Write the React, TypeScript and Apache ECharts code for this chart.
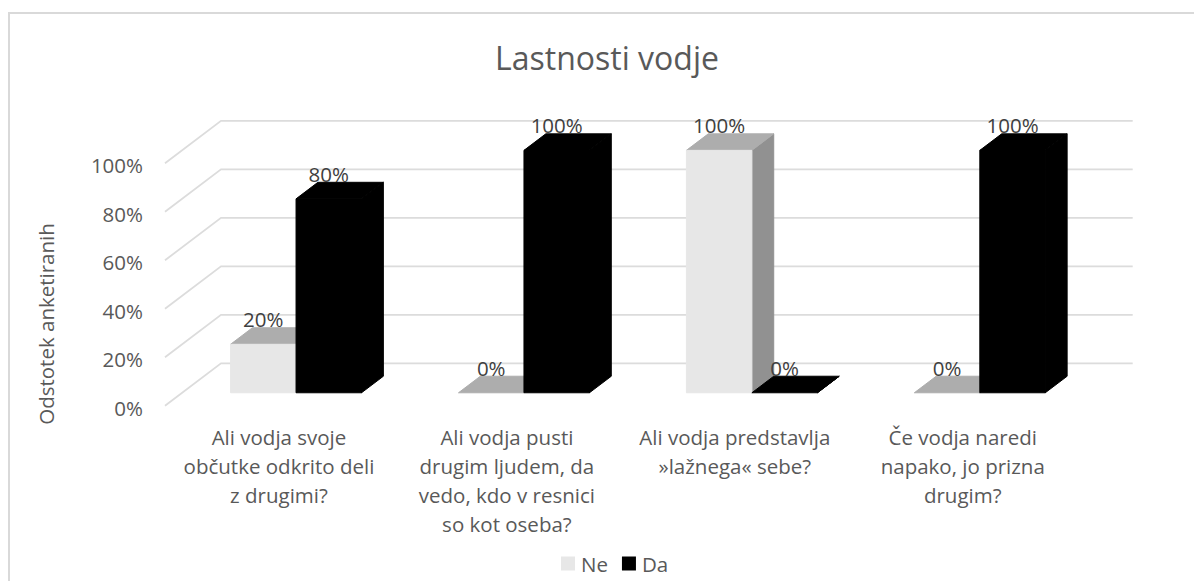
import React, { useEffect, useRef } from "react";
import * as echarts from "echarts";

const titleText = "Lastnosti vodje";
const axisTitle = "Odstotek anketiranih";
const categories = [
  "Ali vodja svoje\nobčutke odkrito deli\nz drugimi?",
  "Ali vodja pusti\ndrugim ljudem, da\nvedo, kdo v resnici\nso kot oseba?",
  "Ali vodja predstavlja\n»lažnega« sebe?",
  "Če vodja naredi\nnapako, jo prizna\ndrugim?",
];
const seriesNames = ["Ne", "Da"];
const neValues = [20, 0, 100, 0];
const daValues = [80, 100, 0, 100];
const tickValues = [0, 20, 40, 60, 80, 100];

const FONT = '"Open Sans", sans-serif';
const TEXT = "#595959";
const LABEL = "#404040";
const GRID = "#dcdcdc";

// Oblique projection of the depth axis
const DEPTH_X = 56;
const DEPTH_Y = 42.4;
const BAR_FRONT = 0.305;
const BAR_DEPTH = 0.39;
const BAR_SHARE = 65.5 / 228;

type Faces = { front: string; top: string; side: string };

const prism = (side: -1 | 0, faces: Faces) => (params: any, api: any) => {
  const value = api.value(1);
  const band = api.size([1, 0])[0];
  const w = band * BAR_SHARE;
  const [cx, topY] = api.coord([api.value(0), value]);
  const [, baseY] = api.coord([api.value(0), 0]);
  const ox = DEPTH_X * BAR_FRONT;
  const oy = DEPTH_Y * BAR_FRONT;
  const dx = DEPTH_X * BAR_DEPTH;
  const dy = DEPTH_Y * BAR_DEPTH;
  const x0 = cx + ox + side * w;
  const x1 = x0 + w;
  const y0 = topY - oy;
  const y1 = baseY - oy;
  // A thin stroke in the face colour closes the seams between neighbouring faces
  const poly = (points: number[][], fill: string) => ({
    type: "polygon",
    shape: { points },
    style: { fill, stroke: fill, lineWidth: 1 },
  });
  const children: any[] = [
    poly([[x1, y0], [x1 + dx, y0 - dy], [x1 + dx, y1 - dy], [x1, y1]], faces.side),
    poly([[x0, y0], [x0 + dx, y0 - dy], [x1 + dx, y0 - dy], [x1, y0]], faces.top),
  ];
  if (y1 > y0) {
    children.push(poly([[x0, y0], [x1, y0], [x1, y1], [x0, y1]], faces.front));
  }
  children.push({
    type: "text",
    style: {
      x: (x0 + x1) / 2,
      y: y0 - 25,
      text: value + "%",
      align: "center",
      verticalAlign: "middle",
      fill: LABEL,
      font: `20.5px ${FONT}`,
    },
  });
  return { type: "group", children };
};

// Floor-to-wall gridline: runs back along the side wall, then across the back wall
const wallLine = (params: any, api: any) => {
  const cs = params.coordSys;
  const y = api.coord([0, api.value(1)])[1];
  return {
    type: "polyline",
    shape: {
      points: [
        [cs.x, y],
        [cs.x + DEPTH_X, y - DEPTH_Y],
        [cs.x + cs.width + DEPTH_X, y - DEPTH_Y],
      ],
    },
    style: { stroke: GRID, lineWidth: 1.8, fill: null },
  };
};

export default function App() {
  const ref = useRef<HTMLDivElement>(null);
  useEffect(() => {
    const chart = echarts.init(ref.current!, undefined, { renderer: "svg" });
    chart.setOption({
      animation: false,
      backgroundColor: "#ffffff",
      textStyle: { fontFamily: FONT },
      title: {
        text: titleText,
        left: 490,
        top: 36,
        textStyle: { fontFamily: FONT, fontSize: 32, fontWeight: "normal", color: TEXT },
      },
      legend: {
        data: seriesNames,
        left: 561,
        top: 553,
        padding: 0,
        icon: "rect",
        itemWidth: 14,
        itemHeight: 14,
        itemGap: 14,
        textStyle: { fontFamily: FONT, fontSize: 20.5, color: TEXT, padding: [0, 0, 0, 1] },
      },
      grid: { left: 165, top: 163.3, width: 911.7, height: 242.4 },
      xAxis: {
        type: "category",
        data: categories,
        axisLine: { show: false },
        axisTick: { show: false },
        axisLabel: {
          interval: 0,
          margin: 17,
          fontFamily: FONT,
          fontSize: 20.5,
          lineHeight: 29,
          color: TEXT,
          align: "center",
        },
      },
      yAxis: {
        type: "value",
        min: 0,
        max: 100,
        interval: 20,
        axisLine: { show: false },
        axisTick: { show: false },
        splitLine: { show: false },
        axisLabel: {
          margin: 22,
          formatter: (v: number) => `{v|${v}%}`,
          rich: {
            v: {
              fontFamily: FONT,
              fontSize: 20.5,
              color: TEXT,
              padding: [4, 0, 0, 0],
            },
          },
        },
      },
      graphic: [
        {
          type: "polyline",
          silent: true,
          shape: { points: [[9, 581], [9, 13], [1194, 13]] },
          style: { stroke: "#d9d9d9", lineWidth: 2, fill: null },
        },
        {
          type: "text",
          x: 46,
          y: 324,
          rotation: Math.PI / 2,
          style: {
            text: axisTitle,
            align: "center",
            verticalAlign: "middle",
            fill: TEXT,
            font: `20.5px ${FONT}`,
          },
        },
      ],
      series: [
        {
          type: "custom",
          name: "walls",
          silent: true,
          renderItem: wallLine,
          encode: { x: 0, y: 1 },
          data: tickValues.map((t) => [0, t]),
          z: 1,
        },
        {
          type: "custom",
          name: seriesNames[0],
          renderItem: prism(-1, { front: "#e7e7e7", top: "#adadad", side: "#919191" }),
          itemStyle: { color: "#e7e7e7" },
          encode: { x: 0, y: 1 },
          data: neValues.map((v, i) => [i, v]),
          z: 2,
        },
        {
          type: "custom",
          name: seriesNames[1],
          renderItem: prism(0, { front: "#000000", top: "#000000", side: "#000000" }),
          itemStyle: { color: "#000000" },
          encode: { x: 0, y: 1 },
          data: daValues.map((v, i) => [i, v]),
          z: 3,
        },
      ],
    });
    return () => chart.dispose();
  }, []);
  return <div ref={ref} style={{ position: "absolute", left: 0, top: 0, width: 1194, height: 581 }} />;
}
